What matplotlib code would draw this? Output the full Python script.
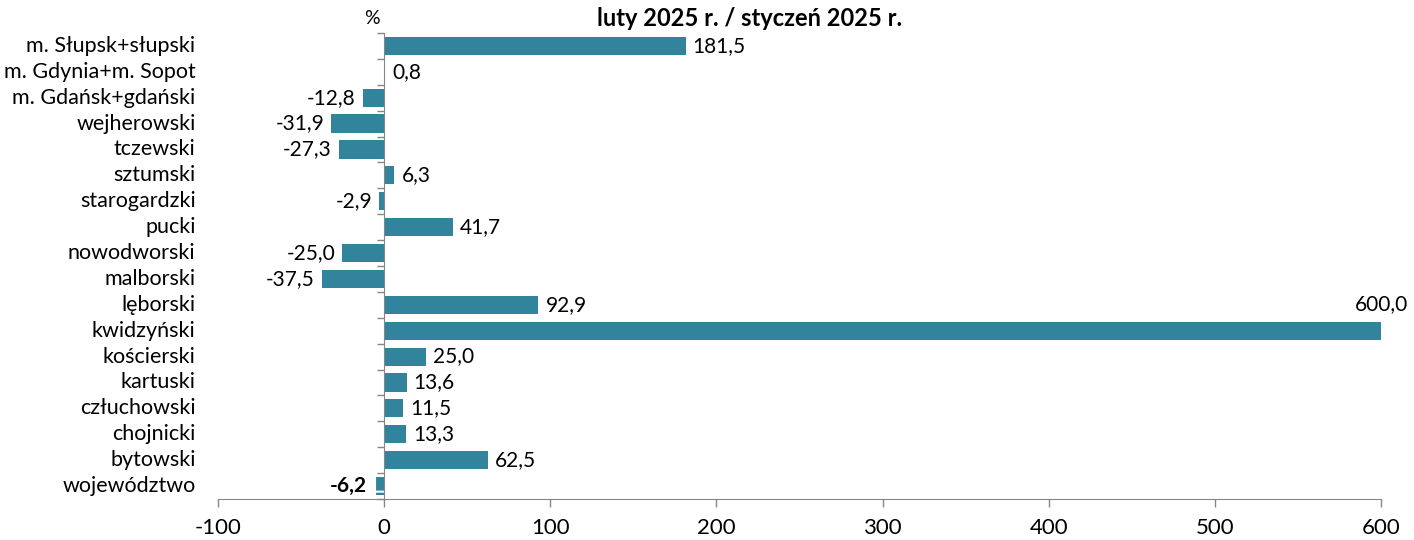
import matplotlib.pyplot as plt
import numpy as np

plt.rcParams['font.family'] = ['Lato', 'DejaVu Sans']

regions = ['m. Słupsk+słupski', 'm. Gdynia+m. Sopot', 'm. Gdańsk+gdański',
           'wejherowski', 'tczewski', 'sztumski', 'starogardzki', 'pucki',
           'nowodworski', 'malborski', 'lęborski', 'kwidzyński', 'kościerski',
           'kartuski', 'człuchowski', 'chojnicki', 'bytowski', 'województwo']
values = [181.5, 0.8, -12.8, -31.9, -27.3, 6.3, -2.9, 41.7, -25.0, -37.5,
          92.9, 600.0, 25.0, 13.6, 11.5, 13.3, 62.5, -6.2]
xticks = [-100, 0, 100, 200, 300, 400, 500, 600]

bar_color = '#31849B'
grey = '#868686'

fig = plt.figure(figsize=(14.14, 5.4), dpi=100)
ax = fig.add_axes([0.154, 0.076, 0.823, 0.863])

y = np.arange(len(regions))
ax.barh(y[:-1], values[:-1], height=0.7, color=bar_color)
# the province total uses a patterned fill
plt.rcParams['hatch.linewidth'] = 1.5
ax.barh(y[-1], values[-1], height=0.7, color=bar_color, edgecolor='white',
        hatch='+', linewidth=0)

ax.set_xlim(-100, 600)
ax.set_ylim(len(regions) - 0.5, -0.5)
ax.set_xticks(xticks)
ax.set_xticklabels([str(t) for t in xticks], fontsize=16)
ax.tick_params(axis='x', length=6, color=grey, width=1, pad=8)

# y axis sits on the zero line, ticks at category boundaries
ax.spines['left'].set_position(('data', 0))
ax.spines['left'].set_color(grey)
ax.spines['bottom'].set_color(grey)
ax.spines['top'].set_visible(False)
ax.spines['right'].set_visible(False)
ax.set_yticks(np.arange(len(regions) + 1) - 0.5)
ax.set_yticklabels([])
ax.tick_params(axis='y', length=5, color=grey, width=1)

for i, name in enumerate(regions):
    ax.annotate(name, xy=(0, i), xycoords=('axes fraction', 'data'),
                xytext=(-16, 0), textcoords='offset points',
                ha='right', va='center', fontsize=15.5)

for i, v in enumerate(values):
    txt = f'{v:.1f}'.replace('.', ',')
    bold = 'bold' if i == len(values) - 1 else 'normal'
    if v >= 0:
        if v >= 600:
            ax.annotate(txt, xy=(v, i), xytext=(0, 12), textcoords='offset points',
                        ha='center', va='bottom', fontsize=15)
        else:
            ax.annotate(txt, xy=(v, i), xytext=(5, 0), textcoords='offset points',
                        ha='left', va='center', fontsize=15, fontweight=bold)
    else:
        ax.annotate(txt, xy=(v, i), xytext=(-5, 0), textcoords='offset points',
                    ha='right', va='center', fontsize=15, fontweight=bold)

fig.text(0.530, 0.966, 'luty 2025 r. / styczeń 2025 r.', ha='center',
         va='center', fontsize=17, fontweight='bold')
fig.text(0.263, 0.966, '%', ha='center', va='center', fontsize=14)

fig.savefig('out.png', dpi=100)
